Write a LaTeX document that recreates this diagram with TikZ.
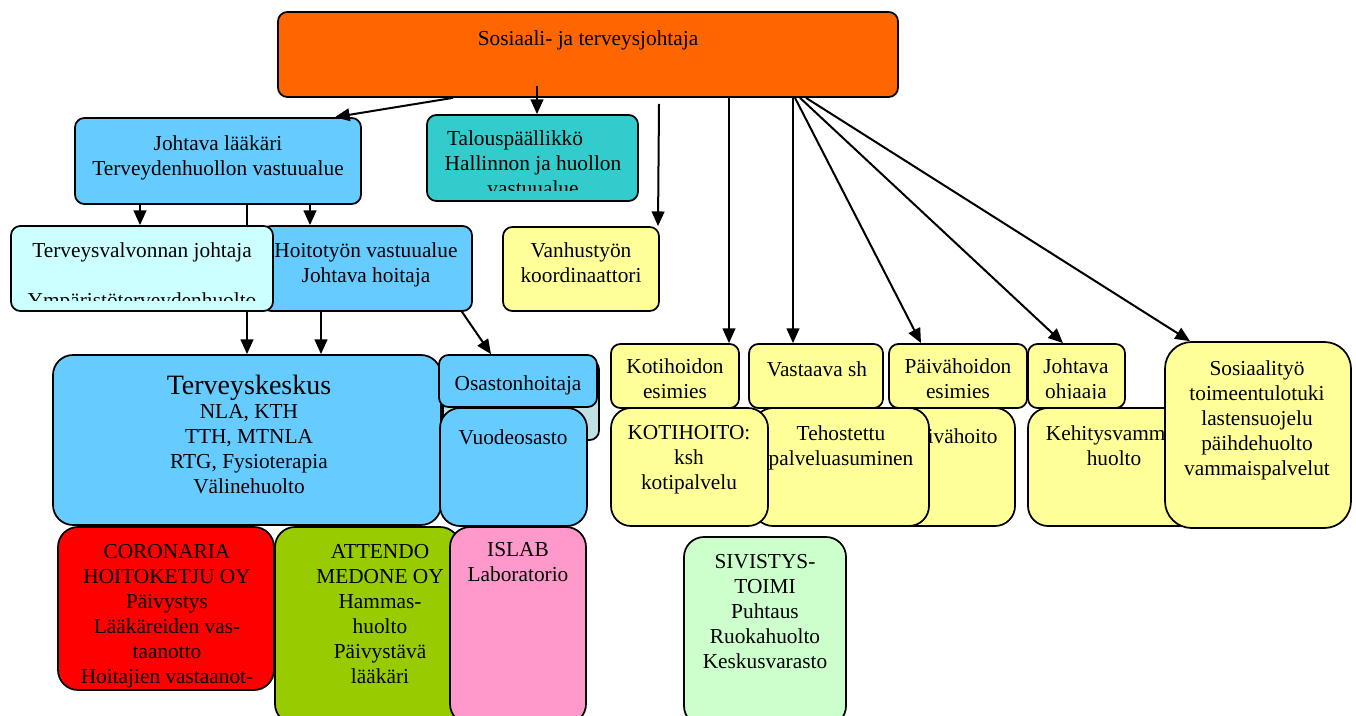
\documentclass[tikz,border=0pt]{standalone}
\usepackage{fontspec}
\setmainfont{Liberation Serif}
\usetikzlibrary{arrows.meta,fit}
\definecolor{corange}{HTML}{FF6600}
\definecolor{cblue}{HTML}{66CCFF}
\definecolor{cteal}{HTML}{33CCCC}
\definecolor{ccyan}{HTML}{CCFFFF}
\definecolor{cyellow}{HTML}{FFFF99}
\definecolor{cred}{HTML}{FF0000}
\definecolor{cgreen}{HTML}{99CC00}
\definecolor{cpink}{HTML}{FF99CC}
\definecolor{clgreen}{HTML}{CCFFCC}
\definecolor{cgray}{HTML}{BFE1E4}
\newcommand\fs{\fontsize{16}{18.75}\selectfont}
\newcommand\fsbig{\fontsize{21}{25}\selectfont}
\begin{document}
\begin{tikzpicture}[x=0.75pt,y=-0.75pt,
  box/.style={draw=black, line width=1.3pt, rounded corners=7pt, inner sep=0pt},
  bigbox/.style={box, rounded corners=15pt},
  txt/.style={font=\fs, align=center, inner sep=0pt, anchor=north, yshift=-3pt, execute at begin node=\strut},
  arr/.style={line width=1.5pt, -{Triangle[length=11pt,width=9.5pt]}}]
\useasboundingbox (0,0) rectangle (1356,716);
% helper x coordinates
\foreach \xx in {140,247,310,321,335,453,462,491,537,658,729,793,795,800,806,921,1063,1190}
  {\coordinate (x\xx) at (\xx,0);}
\coordinate (s537) at (537,86);
\coordinate (s659) at (659,104);

% top level
\node[box, fill=corange, fit={(278,12)(898,97)}] (top) {};
\node[txt] (top-t) at (588,23.5) {Sosiaali- ja terveysjohtaja};

\node[box, fill=cblue, fit={(75,118)(361,204)}] (jl) {};
\node[txt] (jl-t) at (218,131.5) {Johtava lääkäri\\Terveydenhuollon vastuualue};

\node[box, fill=cteal, fit={(427,115)(638,201)}] (tal) {};
\begin{scope}
\clip (427,115) rectangle (638,191);
\node[txt] (tal-t) at (533,126.5) {Talouspäällikkö\hspace*{27pt}\\Hallinnon ja huollon\\vastuualue};
\end{scope}

% middle blue group
\node[bigbox, fill=cblue, fit={(53,355)(441,525)}] (tk) {};
\node[font=\fsbig, inner sep=0pt, anchor=base] (tk-title) at (249,395) {Terveyskeskus};
\node[txt] (tk-t) at (249,400.5) {NLA, KTH\\TTH, MTNLA\\RTG, Fysioterapia\\Välinehuolto};

\node[box, fill=cgray, fit={(443,360)(599,440)}] (gray) {};
\node[box, fill=cblue, fit={(439,355)(597,407)}] (osa) {};
\node[txt] (osa-t) at (518,368.5) {Osastonhoitaja};
\node[bigbox, fill=cblue, fit={(440,408)(587,526)}] (vuo) {};
\node[txt] (vuo-t) at (513,423) {Vuodeosasto};

% connector behind Terveysvalvonta
\draw[arr] (jl.south -| x247) -- (tk.north -| x247);

\node[box, fill=cblue, fit={(262,226)(472,311)}] (hoi) {};
\node[txt] (hoi-t) at (366,238.5) {Hoitotyön vastuualue\\Johtava hoitaja};

\node[box, fill=ccyan, fit={(11,226)(273,311)}] (tv) {};
\begin{scope}
\clip (11,226) rectangle (273,301);
\node[txt] (tv-t) at (142,238.5) {Terveysvalvonnan johtaja\\\mbox{}\\Ympäristöterveydenhuolto};
\end{scope}

\node[box, fill=cyellow, fit={(503,227)(659,311)}] (van) {};
\node[txt] (van-t) at (581,238.5) {Vanhustyön\\koordinaattori};

% bottom left row
\node[bigbox, fill=cred, fit={(58,527)(274,690)}] (cor) {};
\node[txt] (cor-t) at (167,540.5) {CORONARIA\\HOITOKETJU OY\\Päivystys\\Lääkäreiden vas-\\taanotto\\Hoitajien vastaanot-};
\node[bigbox, fill=cgreen, fit={(275,527)(460,724)}] (att) {};
\node[txt] (att-t) at (380,540.5) {ATTENDO\\MEDONE OY\\Hammas-\\huolto\\Päivystävä\\lääkäri};
\node[bigbox, fill=cpink, fit={(450,527)(586,724)}] (isl) {};
\node[txt] (isl-t) at (518,538.5) {ISLAB\\Laboratorio};

% right yellow group, row 1
\node[box, fill=cyellow, fit={(611,344)(739,408)}] (kot) {};
\node[txt] (kot-t) at (675,354.5) {Kotihoidon\\esimies};
\node[box, fill=cyellow, fit={(749,344)(883,408)}] (vas) {};
\node[txt] (vas-t) at (817,354.5) {Vastaava sh};
\node[box, fill=cyellow, fit={(889,344)(1027,408)}] (pae) {};
\node[txt] (pae-t) at (958,354.5) {Päivähoidon\\esimies};
\node[box, fill=cyellow, fit={(1028,344)(1125,408)}] (joh) {};
\begin{scope}
\clip (1028,344) rectangle (1125,399);
\node[txt] (joh-t) at (1076,354.5) {Johtava\\ohjaaja};
\end{scope}

% row 2
\node[bigbox, fill=cyellow, fit={(889,408)(1015,526)}] (pvh) {};
\node[txt] (pvh-t) at (952,421.5) {Päivähoito};
\node[bigbox, fill=cyellow, fit={(753,408)(929,526)}] (teh) {};
\node[txt] (teh-t) at (841,421.5) {Tehostettu\\palveluasuminen};
\node[bigbox, fill=cyellow, fit={(611,408)(768,526)}] (koh) {};
\node[txt] (koh-t) at (689,421.5) {KOTIHOITO:\\ksh\\kotipalvelu};
\node[bigbox, fill=cyellow, fit={(1028,408)(1199,526)}] (keh) {};
\node[txt] (keh-t) at (1114,421.5) {Kehitysvamma-\\huolto};
\node[bigbox, rounded corners=20pt, fill=cyellow, fit={(1165,342)(1351,528)}] (sos) {};
\node[txt] (sos-t) at (1257,356.5) {Sosiaalityö\\toimeentulotuki\\lastensuojelu\\päihdehuolto\\vammaispalvelut};

\node[bigbox, fill=clgreen, fit={(684,537)(846,726)}] (siv) {};
\node[txt] (siv-t) at (765,550.5) {SIVISTYS-\\TOIMI\\Puhtaus\\Ruokahuolto\\Keskusvarasto};

% connectors
\draw[arr] (top.south -| x453) -- (jl.north -| x335);
\draw[arr] (s537) -- (tal.north -| x537);
\draw[arr] (s659) -- (van.north -| x658);
\draw[arr] (top.south -| x729) -- (kot.north -| x729);
\draw[arr] (top.south -| x793) -- (vas.north -| x793);
\draw[arr] (top.south -| x795) -- (pae.north -| x921);
\draw[arr] (top.south -| x800) -- (joh.north -| x1063);
\draw[arr] (top.south -| x806) -- (sos.north -| x1190);
\draw[arr] (jl.south -| x140) -- (tv.north -| x140);
\draw[arr] (jl.south -| x310) -- (hoi.north -| x310);
\draw[arr] (hoi.south -| x321) -- (tk.north -| x321);
\draw[arr] (hoi.south -| x462) -- (osa.north -| x491);
\end{tikzpicture}
\end{document}
